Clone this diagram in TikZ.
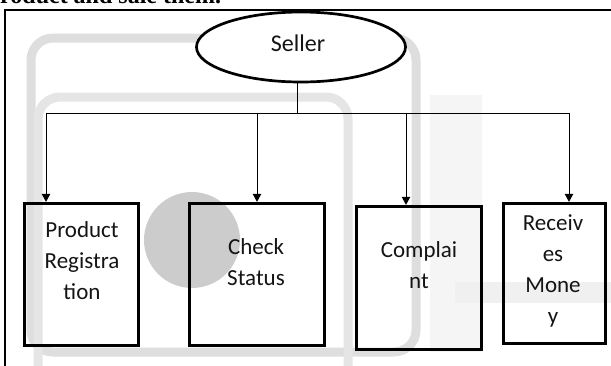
\documentclass[tikz,border=0pt]{standalone}
\usepackage{fontspec}
\setmainfont{Carlito}
\newfontfamily\topfont{Liberation Serif}
\usetikzlibrary{shapes.geometric,arrows.meta}
\begin{document}
\begin{tikzpicture}[x=1pt,y=-1pt,
  wmark/.style={draw=black!13, line width=9pt, rounded corners=22pt},
  boxst/.style={draw, line width=3.3pt, line join=miter, inner sep=0pt},
  txtst/.style={align=center, anchor=north, inner sep=0pt, text=black!92,
                font=\fontsize{23}{31}\selectfont},
  arr/.style={-{Triangle[length=8pt,width=8.5pt]}, line width=0.9pt},
  conn/.style={line width=0.9pt},
  frame/.style={line width=1.4pt}]
\useasboundingbox (0,0) rectangle (611,365);
% faint watermark
\fill[black!4] (430,95) rectangle (482,352);
\fill[black!6] (455,282) rectangle (611,303);
\fill[black!20] (192,240) circle (48);
\draw[wmark] (31,38) rectangle (416,352);
\draw[wmark, draw=black!10] (38,97) rectangle (348,400);
% cut-off line of text at the top
\node[font=\topfont\bfseries\fontsize{24}{28}\selectfont, anchor=base west, inner sep=0pt] (toptext) at (0,3) {roduct and sale them.};
% outer frame
\coordinate (fbl) at (5,370);
\coordinate (ftl) at (5,10);
\coordinate (ftr) at (620,10);
\draw[frame] (fbl) -- (ftl) -- (ftr);
% seller
\node[ellipse, draw, line width=2.7pt, minimum width=209pt, minimum height=70pt, fill=white,
      label={[name=sellerlbl, font=\fontsize{24}{28}\selectfont, text=black!92, xshift=-3pt, yshift=4pt]center:Seller}] (seller) at (301,47) {};
% boxes
\node[boxst, minimum width=114pt, minimum height=142pt] (prod) at (81.5,274.5) {};
\node[boxst, minimum width=135pt, minimum height=142pt] (check) at (257,274.5) {};
\node[boxst, minimum width=125pt, minimum height=143pt] (comp) at (419,278) {};
\node[boxst, minimum width=102pt, minimum height=140pt] (recv) at (554.5,273.5) {};
% texts
\node[txtst] (prodt) at (82,221) {Product\\Registra\\tion};
\node[txtst] (checkt) at (256,238.5) {Check\\Status};
\node[txtst] (compt) at (419,241.5) {Complai\\nt};
\node[txtst] (recvt) at (553,214.5) {Receiv\\es\\Mone\\y};
% connectors
\coordinate (hub) at (297,113);
\coordinate (c1) at (46,113);
\coordinate (c2) at (257,113);
\coordinate (c3) at (406,113);
\coordinate (c4) at (569,113);
\draw[conn] (seller.south -| hub) -- (hub);
\draw[conn] (c1) -- (c4);
\draw[arr] (c1) -- (c1 |- prod.north);
\draw[arr] (c2) -- (c2 |- check.north);
\draw[arr] (c3) -- (c3 |- comp.north);
\draw[arr] (c4) -- (c4 |- recv.north);
\end{tikzpicture}
\end{document}
